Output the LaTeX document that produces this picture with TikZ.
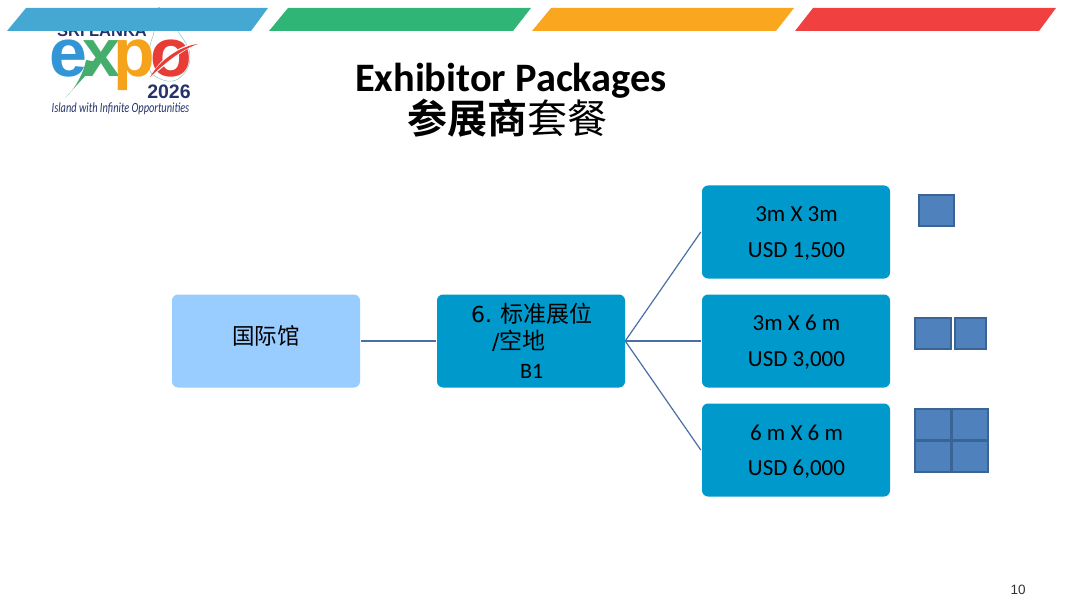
\documentclass[tikz,border=0pt]{standalone}
\usepackage{fontspec}
\setmainfont{Carlito}
\newfontfamily\cjk{Noto Sans CJK SC}
\newfontfamily\cjkb{Noto Sans CJK SC Bold}
\newfontfamily\logof{Liberation Sans}
\newfontfamily\numf{DejaVu Sans}
\tikzset{
 bx/.style={rounded corners=6pt,minimum width=188pt,minimum height=93pt,inner sep=0pt,draw=none,fill=boxblue},
 cell/.style={draw=cellline,line width=2pt,fill=cellfill,minimum width=35pt,minimum height=31pt,inner sep=0pt},
 link/.style={draw=linkblue,line width=1.2pt},
 logoletter/.style={font=\logof\bfseries\fontsize{68}{68}\selectfont,anchor=base west,inner sep=0pt},
 boxtext/.style={font=\fontsize{23}{23}\selectfont,anchor=base},
}
\definecolor{boxblue}{HTML}{0099CC}
\definecolor{lightbox}{HTML}{99CCFF}
\definecolor{cellfill}{HTML}{4F81BD}
\definecolor{cellline}{HTML}{3B6496}
\definecolor{linkblue}{HTML}{4A6FA5}
\definecolor{s1}{HTML}{44A8D2}
\definecolor{s2}{HTML}{2FB575}
\definecolor{s3}{HTML}{FAA61F}
\definecolor{s4}{HTML}{F04040}
\definecolor{navy}{HTML}{26336B}
\definecolor{lblue}{HTML}{3296D6}
\definecolor{lgreen}{HTML}{45AE6C}
\definecolor{lorange}{HTML}{F5A31B}
\definecolor{lred}{HTML}{E83C36}
\begin{document}
\begin{tikzpicture}[x=1pt,y=-1pt]
\useasboundingbox (0,0) rectangle (1080,607);
\fill[white] (0,0) rectangle (1080,607);
% logo
\draw[draw=teal!45,line width=.5pt] (159,7) .. controls (154,14) and (156,25) .. (153,36) .. controls (148,48) and (146,68) .. (152,74) .. controls (160,80) and (170,84) .. (178,79) .. controls (188,72) and (192,62) .. (189,50) .. controls (185,38) and (168,20) .. (159,7);
\node[font=\logof\bfseries\fontsize{16.5}{16.5}\selectfont,text=navy,anchor=base] (sl) at (102,37) {SRI LANKA};
\node[logoletter,text=lblue] (le) at (49,77) {e};
\node[logoletter,text=lgreen] (lx) at (82,77) {x};
\node[logoletter,text=lorange] (lp) at (113,77) {p};
\node[logoletter,text=lred] (lo) at (150,77) {o};
\fill[lgreen] (65,98) -- (98,62) -- (86,60) .. controls (84,72) and (76,88) .. (65,98) -- cycle;
\fill[white] (198,43) .. controls (178,45) and (158,60) .. (150,78) .. controls (164,66) and (180,52) .. (198,43) -- cycle;
\fill[lred] (198,44) .. controls (180,46) and (160,60) .. (150,77) .. controls (164,64) and (180,50) .. (198,44) -- cycle;
\node[font=\logof\bfseries\fontsize{19.5}{19.5}\selectfont,text=navy,anchor=base] (yr) at (169,99) {2026};
\node[font=\itshape\fontsize{14}{14}\selectfont,text=navy,anchor=base] (tag) at (120.5,113) {\scalebox{.74}[1]{Island with Infinite Opportunities}};
% strips
\fill[s1] (26,8) -- (268,8) -- (251,31) -- (7,31) -- cycle;
\fill[s2] (288,8) -- (531,8) -- (513,31) -- (269,31) -- cycle;
\fill[s3] (551,8) -- (794,8) -- (776,31) -- (532,31) -- cycle;
\fill[s4] (813,8) -- (1056,8) -- (1039,31) -- (795,31) -- cycle;
% title
\node[font=\bfseries\fontsize{40.4}{40.4}\selectfont,anchor=base,inner sep=0pt] (t1) at (511,92) {Exhibitor Packages};
\node[font=\fontsize{40}{40}\selectfont,anchor=base,inner sep=0pt] (t2) at (507,134) {{\cjkb 参展商}{\cjk 套餐}};
% boxes
\node[bx,fill=lightbox] (a) at (266,341) {};
\node[font=\cjk\fontsize{22.5}{22.5}\selectfont] (at) at (266,336) {国际馆};
\node[bx] (b) at (531,341) {};
\node[font=\fontsize{23}{23}\selectfont,anchor=base west,inner sep=0pt] (b1) at (471,322) {{\numf\fontsize{22}{22}\selectfont 6.}\hspace{8pt}{\cjk 标准展位}};
\node[font=\fontsize{23}{23}\selectfont,anchor=base west,inner sep=0pt] (b2) at (492,349) {{\numf\fontsize{22}{22}\selectfont /}{\cjk 空地}};
\node[font=\fontsize{22}{22}\selectfont,anchor=base west,inner sep=0pt] (b3) at (520,378) {B1};
\node[bx] (c1) at (796,232) {};
\node[bx] (c2) at (796,341) {};
\node[bx] (c3) at (796,450) {};
\node[boxtext] (c1a) at (796.5,222) {3m X 3m};
\node[boxtext] (c1b) at (796.5,258) {USD 1,500};
\node[boxtext] (c2a) at (796.5,330) {3m X 6 m};
\node[boxtext] (c2b) at (796.5,366) {USD 3,000};
\node[boxtext] (c3a) at (796.5,440) {6 m X 6 m};
\node[boxtext] (c3b) at (796.5,475) {USD 6,000};
% links
\draw[link] ([xshift=1pt]a.east) -- ([xshift=-1pt]b.west);
\draw[link] (b.east) -- ([xshift=-1pt]c1.west);
\draw[link] (b.east) -- ([xshift=-1pt]c2.west);
\draw[link] (b.east) -- ([xshift=-1pt]c3.west);
% cells
\node[cell] (g1) at (936,211) {};
\node[cell,minimum width=36pt] (g2) at (933,333) {};
\node[cell,minimum width=31pt] (g3) at (970,333) {};
\node[cell,minimum width=36pt] (g4) at (933,424.5) {};
\node[cell,minimum width=36pt] (g5) at (969.5,424.5) {};
\node[cell,minimum width=36pt] (g6) at (933,456) {};
\node[cell,minimum width=36pt] (g7) at (969.5,456) {};
\node[font=\logof\fontsize{13.5}{13.5}\selectfont,anchor=base,text=black!80] (pg) at (1018,594) {10};
\end{tikzpicture}
\end{document}
